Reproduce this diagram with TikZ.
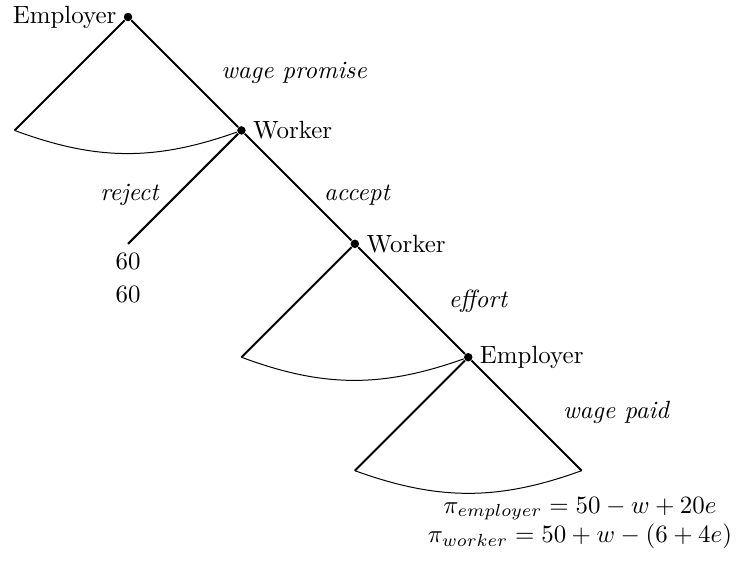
\documentclass[tikz,border=0pt]{standalone}
\usepackage{amsmath}
\usepackage{tikz}
\usetikzlibrary{positioning}
\tikzset{
  dec/.style={circle, fill, inner sep=0pt, minimum size=3.4pt},
  br/.style={thick},
  info/.style={thin, bend right=20},
  act/.style={font=\itshape},
  every label/.style={inner sep=2.6pt},
}

\begin{document}
\begin{tikzpicture}[x=1.6cm,y=1.6cm]
  \useasboundingbox (-1.129,0.150) rectangle (5.414,-4.832);
  \node[dec, label=left:Employer] (e1) at (0,0) {};
  \node[dec, label=right:Worker] (w1) at (1,-1) {};
  \node[dec, label=right:Worker] (w2) at (2,-2) {};
  \node[dec, label=right:Employer] (e2) at (3,-3) {};
  \coordinate (c1) at (-1,-1);
  \coordinate (c2) at (1,-3);
  \coordinate (c3) at (2,-4);
  \coordinate (c4) at (4,-4);
  \coordinate (rj) at (0,-2);
  % main path and the reject branch
  \draw[br] (c1) -- (e1) -- (w1) -- (w2) -- (e2) -- (c4);
  \draw[br] (w1) -- (rj);
  \draw[br] (c2) -- (w2);
  \draw[br] (c3) -- (e2);
  % continuum of choices
  \draw[info] (c1) to (w1);
  \draw[info] (c2) to (e2);
  \draw[info] (c3) to (c4);
  \node[act] at (1.464,-0.494) {wage promise};
  \node[act] at (0.013,-1.570) {reject};
  \node[act] at (2.019,-1.570) {accept};
  \node[act] at (3.086,-2.504) {effort};
  \node[act] at (4.303,-3.483) {wage paid};
  \node[below, align=center] (p1) at (rj) {60\\[1.5pt]60};
  \node[align=center] (p2) at (3.985,-4.462)
    {$\pi_{employer} = 50 - w + 20e$\\$\pi_{worker} = 50 + w - (6 + 4e)$};
\end{tikzpicture}
\end{document}
